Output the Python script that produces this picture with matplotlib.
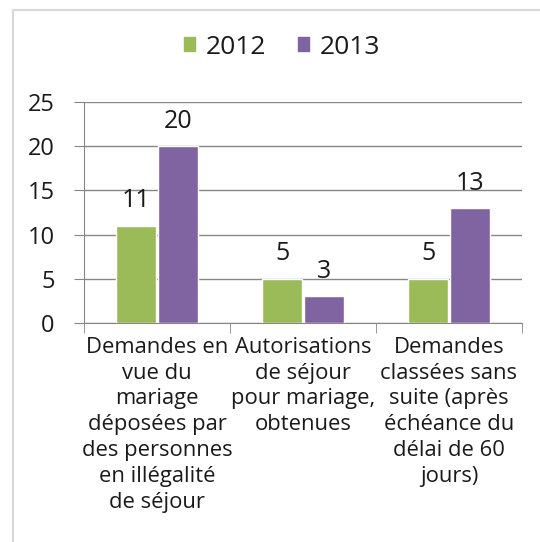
import matplotlib.pyplot as plt
import matplotlib.patches as mpatches
import numpy as np

categories = [
    "Demandes en\nvue du\nmariage\ndéposées par\ndes personnes\nen illégalité\nde séjour",
    "Autorisations\nde séjour\npour mariage,\nobtenues",
    "Demandes\nclassées sans\nsuite (après\néchéance du\ndélai de 60\njours)",
]
years = ["2012", "2013"]
values_2012 = [11, 5, 5]
values_2013 = [20, 3, 13]
colors = ["#9BBB59", "#8064A2"]

plt.rcParams["font.family"] = ["Open Sans", "DejaVu Sans"]

W, H = 540, 542
fig = plt.figure(figsize=(W / 100, H / 100), dpi=100)

# outer chart frame (left and top edges visible)
fig.patches.append(mpatches.Rectangle((13 / W, -0.1), 1.2, 1 - 10 / H + 0.1,
                                      transform=fig.transFigure, fill=False,
                                      edgecolor="#D9D9D9", lw=1.5))

ax = fig.add_axes([84 / W, 1 - 323 / H, 438 / W, 221 / H])
x = np.arange(len(categories))
bw = 0.275
bars1 = ax.bar(x - bw / 2 - 0.005, values_2012, bw, color=colors[0], edgecolor="white", lw=1, zorder=3)
bars2 = ax.bar(x + bw / 2 + 0.005, values_2013, bw, color=colors[1], edgecolor="white", lw=1, zorder=3)

for bars in (bars1, bars2):
    for b in bars:
        ax.annotate(f"{b.get_height():g}", (b.get_x() + b.get_width() / 2, b.get_height()),
                    xytext=(0, 9), textcoords="offset points", ha="center", va="bottom",
                    fontsize=18, color="#1a1a1a")

ax.set_xlim(-0.5, 2.5)
ax.set_ylim(0, 25)
ax.set_yticks(range(0, 26, 5))
ax.set_xticks(x)
ax.set_xticklabels(categories, fontsize=15.8, linespacing=1.3, color="#1a1a1a")
ax.set_xticks([-0.5, 0.5, 1.5, 2.5], minor=True)
ax.tick_params(axis="x", which="major", length=0, pad=10)
ax.tick_params(axis="x", which="minor", length=7, color="#868686")
ax.tick_params(axis="y", length=7, color="#868686", labelsize=17, labelcolor="#1a1a1a", pad=14)
ax.grid(axis="y", color="#868686", lw=1, zorder=0)
for s in ("top", "right"):
    ax.spines[s].set_visible(False)
for s in ("left", "bottom"):
    ax.spines[s].set_color("#868686")
ax.set_axisbelow(True)

handles = [mpatches.Patch(color=c, label=l) for c, l in zip(colors, years)]
fig.legend(handles=handles, loc="center", bbox_to_anchor=(282 / W, 1 - 47 / H), ncol=2,
           frameon=False, fontsize=19, handlelength=0.42, handleheight=0.42,
           handletextpad=0.4, columnspacing=1.2, labelcolor="#1a1a1a")

fig.savefig("out.png", dpi=100)
